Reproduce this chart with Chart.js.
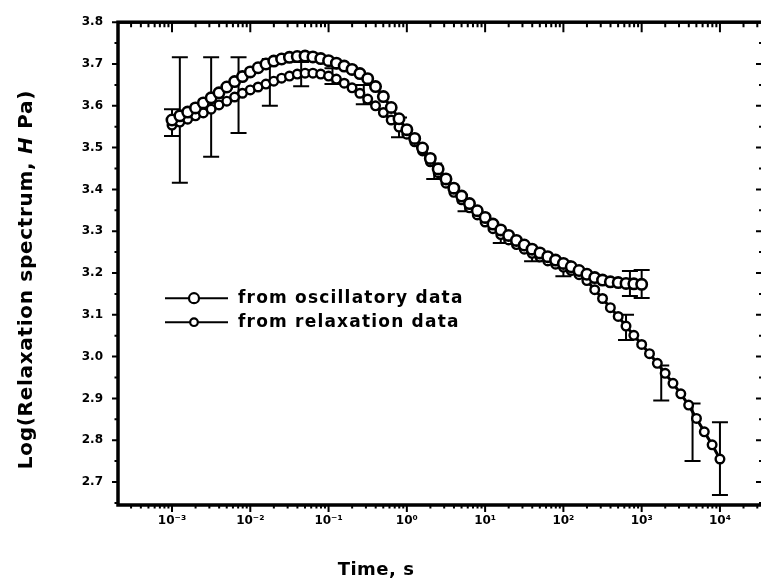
<!DOCTYPE html>
<html><head><meta charset="utf-8">
<script src="https://cdn.jsdelivr.net/npm/chart.js@4/dist/chart.umd.min.js"></script>
<style>html,body{margin:0;padding:0;overflow:hidden;background:#fff}#c{display:block}</style>
</head><body>
<canvas id="c" width="775" height="582"></canvas>
<script>
// ---- data (log10 of time in s, log10 of H in Pa) ----
const logTimeRelax = [-3.0,-2.9,-2.8,-2.7,-2.6,-2.5,-2.4,-2.3,-2.2,-2.1,-2.0,-1.9,-1.8,-1.7,-1.6,-1.5,-1.4,-1.3,-1.2,-1.1,-1.0,-0.9,-0.8,-0.7,-0.6,-0.5,-0.4,-0.3,-0.2,-0.1,0.0,0.1,0.2,0.3,0.4,0.5,0.6,0.7,0.8,0.9,1.0,1.1,1.2,1.3,1.4,1.5,1.6,1.7,1.8,1.9,2.0,2.1,2.2,2.3,2.4,2.5,2.6,2.7,2.8,2.9,3.0,3.1,3.2,3.3,3.4,3.5,3.6,3.7,3.8,3.9,4.0];
const relaxValues = [3.554,3.561,3.568,3.576,3.583,3.592,3.602,3.611,3.621,3.630,3.638,3.645,3.652,3.659,3.666,3.671,3.676,3.678,3.678,3.676,3.671,3.664,3.654,3.643,3.630,3.616,3.600,3.584,3.566,3.549,3.532,3.514,3.492,3.466,3.440,3.415,3.393,3.375,3.356,3.339,3.322,3.306,3.292,3.279,3.268,3.257,3.247,3.238,3.229,3.221,3.214,3.206,3.196,3.182,3.160,3.139,3.117,3.096,3.073,3.051,3.029,3.007,2.984,2.960,2.936,2.911,2.884,2.852,2.820,2.789,2.755];
const logTimeOsc = [-3.0,-2.9,-2.8,-2.7,-2.6,-2.5,-2.4,-2.3,-2.2,-2.1,-2.0,-1.9,-1.8,-1.7,-1.6,-1.5,-1.4,-1.3,-1.2,-1.1,-1.0,-0.9,-0.8,-0.7,-0.6,-0.5,-0.4,-0.3,-0.2,-0.1,0.0,0.1,0.2,0.3,0.4,0.5,0.6,0.7,0.8,0.9,1.0,1.1,1.2,1.3,1.4,1.5,1.6,1.7,1.8,1.9,2.0,2.1,2.2,2.3,2.4,2.5,2.6,2.7,2.8,2.9,3.0];
const oscValues = [3.566,3.576,3.585,3.595,3.607,3.619,3.631,3.645,3.658,3.670,3.681,3.691,3.700,3.707,3.712,3.716,3.718,3.719,3.717,3.713,3.708,3.702,3.695,3.687,3.677,3.665,3.646,3.622,3.596,3.569,3.543,3.522,3.499,3.474,3.449,3.425,3.403,3.384,3.366,3.349,3.333,3.317,3.303,3.290,3.278,3.267,3.257,3.248,3.239,3.231,3.223,3.215,3.206,3.197,3.189,3.183,3.179,3.177,3.175,3.174,3.173];
// error bars
const relaxErrT    = [-2.9,-2.5,-2.15,-1.75,-1.35,-0.95,-0.55,-0.1,0.35,0.75,1.2,1.6,2.0,2.8,3.25,3.65,4.0];
const relaxErrLow  = [3.416,3.478,3.535,3.600,3.647,3.652,3.604,3.525,3.425,3.348,3.272,3.228,3.192,3.040,2.895,2.750,2.669];
const relaxErrHigh = [3.716,3.716,3.716,3.712,3.705,3.690,3.650,3.572,3.462,3.368,3.300,3.252,3.228,3.100,2.979,2.888,2.843];
const oscErrT    = [-3.0,2.85,3.0];
const oscErrLow  = [3.528,3.145,3.140];
const oscErrHigh = [3.592,3.205,3.207];
// ticks
const xTickExponents = [-3,-2,-1,0,1,2,3,4];
const yTickValues = [2.7,2.8,2.9,3.0,3.1,3.2,3.3,3.4,3.5,3.6,3.7,3.8];
const seriesNames = ['from oscillatory data','from relaxation data'];

const FONT = "'DejaVu Sans', 'Liberation Sans', sans-serif";
const SUP = {'-':'\u207B','0':'\u2070','1':'\u00B9','2':'\u00B2','3':'\u00B3','4':'\u2074','5':'\u2075','6':'\u2076','7':'\u2077','8':'\u2078','9':'\u2079'};
const expLabel = e => '10' + String(e).split('').map(c => SUP[c]).join('');

const errorBars = {
  id: 'errorBars',
  beforeDatasetsDraw(chart) {
    const {ctx, scales: {x, y}} = chart;
    ctx.save();
    ctx.strokeStyle = '#000'; ctx.lineWidth = 2;
    const draw = (T, L, H, cap) => {
      T.forEach((t, i) => {
        const px = x.getPixelForValue(t), y1 = y.getPixelForValue(L[i]), y2 = y.getPixelForValue(H[i]);
        ctx.beginPath();
        ctx.moveTo(px, y1); ctx.lineTo(px, y2);
        ctx.moveTo(px - cap, y1); ctx.lineTo(px + cap, y1);
        ctx.moveTo(px - cap, y2); ctx.lineTo(px + cap, y2);
        ctx.stroke();
      });
    };
    draw(relaxErrT, relaxErrLow, relaxErrHigh, 8);
    draw(oscErrT, oscErrLow, oscErrHigh, 8);
    ctx.restore();
  }
};

const frame = {
  id: 'frame',
  afterDraw(chart) {
    const {ctx, chartArea: a, scales: {x, y}} = chart;
    ctx.save();
    ctx.strokeStyle = '#000';
    ctx.lineWidth = 2;
    ctx.beginPath();
    for (let i = 0; i <= 23; i++) {
      const v = 2.65 + i * 0.05;
      const py = y.getPixelForValue(v);
      if (py < a.top - 0.5 || py > a.bottom + 0.5) continue;
      const major = i % 2 === 1;
      const lo = major ? 6 : 3.5, li = major ? 7 : 4;
      ctx.moveTo(a.left, py); ctx.lineTo(a.left - lo, py);
      ctx.moveTo(a.right, py); ctx.lineTo(a.right - li, py);
    }
    for (let e = -4; e <= 4; e++) {
      for (let m = 1; m <= 9; m++) {
        const v = e + Math.log10(m);
        const px = x.getPixelForValue(v);
        if (px < a.left || px > a.right) continue;
        const major = m === 1;
        ctx.moveTo(px, a.bottom); ctx.lineTo(px, a.bottom + (major ? 7 : 3.5));
        ctx.moveTo(px, a.top); ctx.lineTo(px, a.top + (major ? 10 : 5));
      }
    }
    ctx.stroke();
    ctx.lineWidth = 3.5;
    ctx.strokeRect(a.left, a.top, a.right - a.left, a.bottom - a.top);
    ctx.restore();
  }
};

const titles = {
  id: 'titles',
  afterDraw(chart) {
    const {ctx, chartArea: a} = chart;
    ctx.save();
    ctx.fillStyle = '#000';
    const parts = [
      ['Log(Relaxation spectrum, ', 'bold 20px ' + FONT],
      ['H', 'italic bold 20px ' + FONT],
      [' Pa)', 'bold 20px ' + FONT]
    ];
    ctx.letterSpacing = '0.7px';
    let total = 0;
    parts.forEach(p => { ctx.font = p[1]; total += ctx.measureText(p[0]).width; });
    ctx.translate(27, (a.top + a.bottom) / 2 + 16);
    ctx.rotate(-Math.PI / 2);
    ctx.textBaseline = 'middle'; ctx.textAlign = 'left';
    let cx = -total / 2;
    parts.forEach(p => { ctx.font = p[1]; ctx.fillText(p[0], cx, 0); cx += ctx.measureText(p[0]).width; });
    ctx.restore();
    ctx.save();
    ctx.fillStyle = '#000';
    ctx.font = 'bold 18px ' + FONT;
    ctx.letterSpacing = '0.5px';
    ctx.textAlign = 'center'; ctx.textBaseline = 'middle';
    ctx.fillText('Time, s', a.left + 0.40 * (a.right - a.left), 570);
    ctx.restore();
  }
};

const legendBox = {
  id: 'legendBox',
  afterDraw(chart) {
    const {ctx, chartArea: a} = chart;
    ctx.save();
    const rows = [{r: 5, y: a.top + 276}, {r: 3.8, y: a.top + 300}];
    rows.forEach((row, i) => {
      const x0 = a.left + 47, x1 = a.left + 110, cxp = a.left + 76;
      ctx.strokeStyle = '#000'; ctx.lineWidth = 2;
      ctx.beginPath(); ctx.moveTo(x0, row.y); ctx.lineTo(x1, row.y); ctx.stroke();
      ctx.beginPath(); ctx.arc(cxp, row.y, row.r, 0, Math.PI * 2);
      ctx.fillStyle = '#fff'; ctx.fill(); ctx.lineWidth = 2.2; ctx.stroke();
      ctx.fillStyle = '#000';
      ctx.font = 'bold 17px ' + FONT;
      ctx.letterSpacing = '1.2px';
      ctx.textAlign = 'left'; ctx.textBaseline = 'middle';
      ctx.fillText(seriesNames[i], a.left + 120, row.y);
    });
    ctx.restore();
  }
};

const toPts = (T, V) => T.map((t, i) => ({x: t, y: V[i]}));

new Chart(document.getElementById('c'), {
  type: 'line',
  data: {
    datasets: [
      {label: seriesNames[0], data: toPts(logTimeOsc, oscValues), borderColor: '#000', borderWidth: 3,
       pointRadius: 5.2, pointBorderWidth: 2.6, pointBackgroundColor: '#fff', pointBorderColor: '#000', tension: 0, fill: false},
      {label: seriesNames[1], data: toPts(logTimeRelax, relaxValues), borderColor: '#000', borderWidth: 3,
       pointRadius: 4.3, pointBorderWidth: 2.4, pointBackgroundColor: '#fff', pointBorderColor: '#000', tension: 0, fill: false}
    ]
  },
  options: {
    responsive: false, animation: false,
    layout: {padding: {top: 21, right: 12, left: 0, bottom: 0}},
    plugins: {legend: {display: false}, tooltip: {enabled: false}},
    scales: {
      x: {
        type: 'linear', min: -3.69, max: 4.55,
        afterBuildTicks: s => { s.ticks = xTickExponents.map(v => ({value: v})); },
        afterFit: s => { s.height = 77; },
        grid: {display: false, drawTicks: false}, border: {display: false},
        ticks: {padding: 9, color: '#000', font: {family: FONT, weight: 'bold', size: 12},
                callback: v => expLabel(v), maxRotation: 0, autoSkip: false}
      },
      y: {
        type: 'linear', min: 2.645, max: 3.8,
        afterBuildTicks: s => { s.ticks = yTickValues.map(v => ({value: v})); },
        afterFit: s => { s.width = 118; },
        grid: {display: false, drawTicks: false}, border: {display: false},
        ticks: {padding: 15, color: '#000', font: {family: FONT, weight: 'bold', size: 12},
                callback: v => v.toFixed(1), autoSkip: false}
      }
    }
  },
  plugins: [errorBars, frame, titles, legendBox]
});
</script>
</body></html>
